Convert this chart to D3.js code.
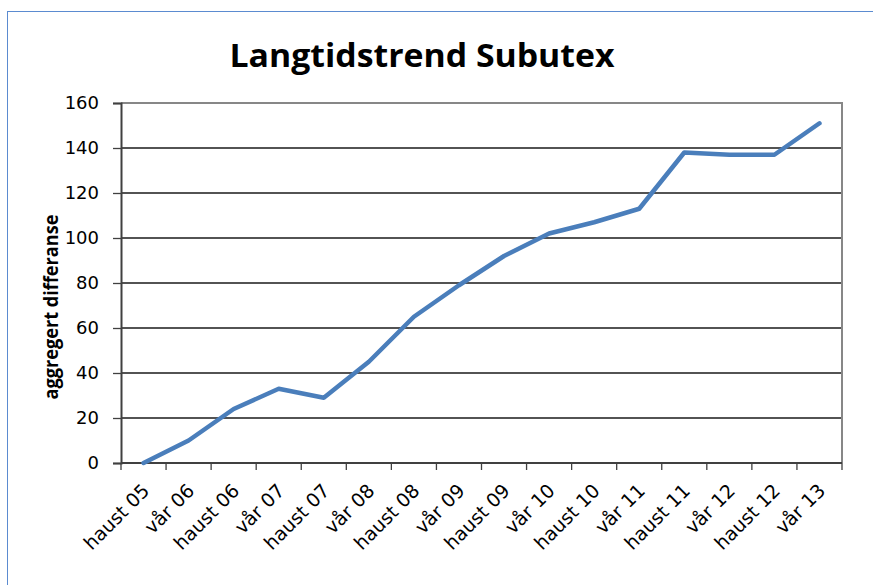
<!DOCTYPE html>
<html>
<head>
<meta charset="utf-8">
<script src="https://cdn.jsdelivr.net/npm/d3@7"></script>
<style>
  body { margin: 0; background: #fff; }
  svg { display: block; }
</style>
</head>
<body>
<svg width="873" height="585"></svg>
<script>
const periods = ['haust 05', 'vår 06', 'haust 06', 'vår 07', 'haust 07', 'vår 08', 'haust 08', 'vår 09',
  'haust 09', 'vår 10', 'haust 10', 'vår 11', 'haust 11', 'vår 12', 'haust 12', 'vår 13'];
const values = [0, 10, 24, 33, 29, 45, 65, 79, 92, 102, 107, 113, 138, 137, 137, 151];
const yTicks = [0, 20, 40, 60, 80, 100, 120, 140, 160];

const margin = {top: 103, right: 31, bottom: 122, left: 121};
const width = 873 - margin.left - margin.right
const height = 585 - margin.top - margin.bottom

const svg = d3.select('svg')

// outer chart border (runs off the right and bottom edges)
svg.append('rect')
  .attr('x', 7.5).attr('y', 11.5)
  .attr('width', 900).attr('height', 700)
  .attr('fill', 'none')
  .attr('stroke', '#5b8bd0')
  .attr('stroke-width', 1)

const chart = svg.append('g')
  .attr('transform', `translate(${margin.left}, ${margin.top})`)

const xScale = d3.scaleBand()
  .domain(periods)
  .range([0, width])
  .padding(0)

const yScale = d3.scaleLinear()
  .domain([0, 160])
  .range([height, 0])

// horizontal grid lines
chart.append('g')
  .selectAll('line')
  .data(yTicks.filter(t => t > 0 && t < 160))
  .enter()
  .append('line')
  .attr('x1', 0).attr('x2', width)
  .attr('y1', t => yScale(t)).attr('y2', t => yScale(t))
  .attr('stroke', '#1a1a1a')
  .attr('stroke-width', 1.3)

// plot frame top and right (grey)
chart.append('path')
  .attr('d', `M0,${yScale(160)}H${width}V${height}`)
  .attr('fill', 'none')
  .attr('stroke', '#878787')
  .attr('stroke-width', 2)

// y axis
const yAxis = chart.append('g')
  .call(d3.axisLeft(yScale).tickValues(yTicks).tickSize(8).tickPadding(14))
yAxis.select('.domain').attr('stroke', '#404040').attr('stroke-width', 2)
yAxis.selectAll('.tick line').attr('stroke', '#404040').attr('stroke-width', 1.3)
yAxis.selectAll('text')
  .attr('font-family', 'DejaVu Sans')
  .attr('font-size', 18)
  .attr('fill', '#000')

// x axis: baseline plus tick marks at band boundaries
chart.append('line')
  .attr('x1', 0).attr('x2', width)
  .attr('y1', height).attr('y2', height)
  .attr('stroke', '#404040')
  .attr('stroke-width', 2)

const bounds = periods.map(p => xScale(p)).concat([xScale.range()[1]])
chart.append('g')
  .selectAll('line')
  .data(bounds)
  .enter()
  .append('line')
  .attr('x1', d => d).attr('x2', d => d)
  .attr('y1', height).attr('y2', height + 7)
  .attr('stroke', '#404040')
  .attr('stroke-width', 1.3)

chart.append('g')
  .selectAll('text')
  .data(periods)
  .enter()
  .append('text')
  .attr('transform', p => `translate(${xScale(p) + xScale.bandwidth() / 2 + 7}, ${height + 29}) rotate(-45)`)
  .attr('text-anchor', 'end')
  .attr('font-family', 'DejaVu Sans')
  .attr('font-size', 19)
  .attr('fill', '#000')
  .text(p => p)

// the line
const line = d3.line()
  .x((v, i) => xScale(periods[i]) + xScale.bandwidth() / 2)
  .y(v => yScale(v))

chart.append('path')
  .datum(values)
  .attr('d', line)
  .attr('fill', 'none')
  .attr('stroke', '#4a7ebb')
  .attr('stroke-width', 4.5)
  .attr('stroke-linejoin', 'round')
  .attr('stroke-linecap', 'round')

// title
svg.append('text')
  .attr('x', 422)
  .attr('y', 67)
  .attr('text-anchor', 'middle')
  .attr('font-family', 'Open Sans')
  .attr('font-weight', 'bold')
  .attr('font-size', 33)
  .attr('textLength', 385)
  .attr('lengthAdjust', 'spacingAndGlyphs')
  .text('Langtidstrend Subutex')

// y axis label
svg.append('text')
  .attr('transform', 'translate(58, 307) rotate(-90)')
  .attr('text-anchor', 'middle')
  .attr('font-family', 'Open Sans')
  .attr('font-weight', 'bold')
  .attr('font-size', 19)
  .attr('textLength', 185)
  .attr('lengthAdjust', 'spacingAndGlyphs')
  .text('aggregert differanse')
</script>
</body>
</html>
